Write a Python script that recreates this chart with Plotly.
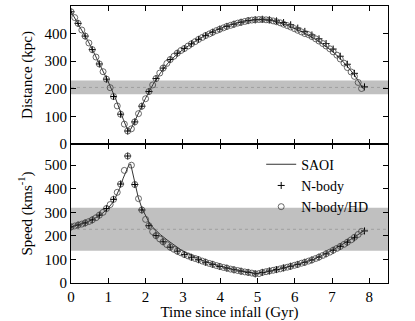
import plotly.graph_objects as go

# SAOI orbit (solid line)
t_saoi_d = [0, 0.5, 1.0, 1.2, 1.4, 1.5, 1.55, 1.6, 1.7, 1.8, 2.0, 2.2, 2.4, 2.6, 2.8, 3.0,
            3.4, 3.8, 4.2, 4.6, 5.0, 5.4, 5.8, 6.2, 6.6, 7.0, 7.2, 7.4, 7.6, 7.85]
dist_saoi = [480, 362, 225, 163, 90, 57, 48, 53, 80, 110, 166, 216, 258, 293, 320, 342,
             378, 408, 429, 444, 451, 447, 430, 406, 376, 337, 312, 283, 250, 198]
t_saoi_v = [0, 0.2, 0.4, 0.6, 0.8, 1.0, 1.1, 1.2, 1.3, 1.4, 1.5, 1.55, 1.6, 1.65, 1.7, 1.8,
            1.9, 2.0, 2.1, 2.2, 2.4, 2.6, 2.8, 3.0, 3.5, 4.0, 4.5, 5.0, 5.5, 6.0, 6.5, 7.0,
            7.5, 7.85]
speed_saoi = [238, 247, 257, 271, 290, 318, 338, 365, 400, 445, 485, 500, 505, 470, 425, 365,
              318, 285, 255, 235, 205, 180, 158, 135, 97, 71, 53, 40, 55, 75, 100, 138,
              185, 221]

# N-body/HD snapshots (open circles)
t_hd = [0.00, 0.10, 0.19, 0.29, 0.38, 0.48, 0.57, 0.67, 0.76, 0.86, 0.95, 1.05, 1.14, 1.24,
        1.33, 1.43, 1.52, 1.62, 1.71, 1.81, 1.90, 2.00, 2.09, 2.19, 2.28, 2.38, 2.47, 2.57,
        2.66, 2.76, 2.85, 2.95, 3.04, 3.14, 3.23, 3.33, 3.42, 3.52, 3.61, 3.71, 3.80, 3.90,
        3.99, 4.09, 4.18, 4.28, 4.37, 4.47, 4.56, 4.66, 4.75, 4.85, 4.94, 5.04, 5.13, 5.23,
        5.32, 5.42, 5.51, 5.61, 5.70, 5.80, 5.89, 5.99, 6.08, 6.18, 6.27, 6.37, 6.46, 6.56,
        6.65, 6.75, 6.84, 6.94, 7.03, 7.13, 7.22, 7.32, 7.41, 7.51, 7.60, 7.70, 7.79]
dist_hd = [479, 458, 437, 413, 391, 366, 342, 315, 290, 262, 235, 204, 172, 138,
           108, 72, 47, 55, 80, 110, 137, 164, 190, 214, 237, 257, 275, 292,
           306, 318, 329, 339, 346, 355, 363, 371, 379, 386, 393, 399, 405, 411,
           416, 421, 426, 430, 434, 438, 441, 444, 447, 449, 450, 451, 451, 450,
           449, 446, 443, 439, 434, 429, 424, 418, 412, 406, 400, 396, 389, 381,
           373, 364, 355, 345, 334, 322, 308, 293, 277, 261, 245, 223, 201]
speed_hd = [238, 242, 246, 250, 255, 261, 268, 277, 288, 300, 316, 333, 355, 385,
            420, 478, 539, 500, 418, 358, 310, 270, 243, 218, 201, 187, 175, 163,
            152, 143, 135, 128, 121, 115, 109, 104, 99, 93, 88, 83, 79, 74,
            70, 66, 63, 59, 56, 53, 50, 47, 45, 42, 39, 40, 45, 48,
            51, 54, 57, 60, 64, 67, 71, 75, 79, 84, 88, 93, 98, 104,
            110, 117, 124, 131, 139, 147, 155, 164, 173, 183, 194, 206, 219]

# N-body snapshots (plus signs)
t_nb = [0.00, 0.19, 0.38, 0.57, 0.76, 0.95, 1.14, 1.33, 1.52, 1.71, 1.90, 2.09, 2.28, 2.47,
        2.66, 2.85, 3.04, 3.23, 3.42, 3.61, 3.80, 3.99, 4.18, 4.37, 4.56, 4.75, 4.94, 5.13,
        5.32, 5.51, 5.70, 5.89, 6.08, 6.27, 6.46, 6.65, 6.84, 7.03, 7.22, 7.41, 7.60, 7.87]
dist_nb = [479, 437, 391, 342, 290, 235, 172, 108, 47, 80, 137, 190, 237, 275,
           306, 329, 346, 363, 379, 393, 405, 416, 426, 434, 441, 447, 450, 452,
           450, 446, 440, 432, 420, 408, 395, 381, 364, 344, 318, 289, 256, 207]
speed_nb = [238, 246, 255, 268, 288, 316, 355, 420, 539, 418, 310, 243, 201, 175,
            152, 135, 121, 109, 99, 88, 79, 70, 63, 56, 50, 45, 39, 45,
            51, 57, 64, 71, 79, 88, 98, 110, 124, 139, 155, 173, 192, 221]

# observed ranges (grey bands) and their centres
dist_band = [180, 230]
dist_mid = 205
speed_band = [137, 319]
speed_mid = 228

FONT = dict(family='Liberation Serif', size=15, color='black')

fig = go.Figure()

for yax, (ts, ys), (tn, yn), yh, show in [
    ('y', (t_saoi_d, dist_saoi), (t_nb, dist_nb), dist_hd, False),
    ('y2', (t_saoi_v, speed_saoi), (t_nb, speed_nb), speed_hd, True),
]:
    xax = 'x' if yax == 'y' else 'x2'
    fig.add_scatter(x=ts, y=ys, xaxis=xax, yaxis=yax, mode='lines', name='SAOI',
                    line=dict(color='#333333', width=1), showlegend=show)
    fig.add_scatter(x=tn, y=yn, xaxis=xax, yaxis=yax, mode='markers', name='N-body',
                    marker=dict(symbol='cross-thin', size=5, line=dict(color='black', width=1)),
                    showlegend=show)
    fig.add_scatter(x=t_hd, y=yh, xaxis=xax, yaxis=yax, mode='markers', name='N-body/HD',
                    marker=dict(symbol='circle-open', size=6, color='#444444',
                                line=dict(width=0.8)),
                    showlegend=show)

for yref, band, mid in [('y', dist_band, dist_mid), ('y2', speed_band, speed_mid)]:
    xref = 'x' if yref == 'y' else 'x2'
    fig.add_shape(type='rect', xref=xref + ' domain', yref=yref, x0=0, x1=1,
                  y0=band[0], y1=band[1], fillcolor='#c0c0c0', line_width=0, layer='below')
    fig.add_shape(type='line', xref=xref + ' domain', yref=yref, x0=0, x1=1,
                  y0=mid, y1=mid, line=dict(color='#909090', width=0.7, dash='dot'),
                  layer='below')

axis_style = dict(showline=True, linecolor='black', linewidth=1, mirror='ticks',
                  ticks='inside', ticklen=5, tickcolor='black', showgrid=False,
                  zeroline=False, tickfont=FONT, automargin=False)

fig.update_layout(
    width=415, height=321,
    margin=dict(l=71, r=27, t=6, b=38),
    paper_bgcolor='white', plot_bgcolor='white',
    font=FONT,
    xaxis=dict(axis_style, range=[0, 8.5], dtick=1, domain=[0, 1], anchor='y',
               showticklabels=False, matches='x2'),
    yaxis=dict(axis_style, range=[0, 500], dtick=100, domain=[0.5018, 1], anchor='x',
               title=dict(text='Distance (kpc)', font=FONT, standoff=8)),
    xaxis2=dict(axis_style, range=[0, 8.5], dtick=1, domain=[0, 1], anchor='y2',
                title=dict(text='Time since infall (Gyr)', font=FONT, standoff=0)),
    yaxis2=dict(axis_style, range=[0, 590], tickvals=[0, 100, 200, 300, 400, 500],
                domain=[0, 0.5018], anchor='x2',
                title=dict(text='Speed (kms<sup>-1</sup>)', font=FONT, standoff=8)),
    legend=dict(x=0.6, y=0.485, xanchor='left', yanchor='top', bgcolor='rgba(0,0,0,0)',
                font=dict(FONT, size=14), tracegroupgap=0, itemwidth=30),
)

# the page's default body margin would shift the figure by 8px
fig.write_html("out.html", config={'displayModeBar': False},
               post_script="document.body.style.margin='0';")
